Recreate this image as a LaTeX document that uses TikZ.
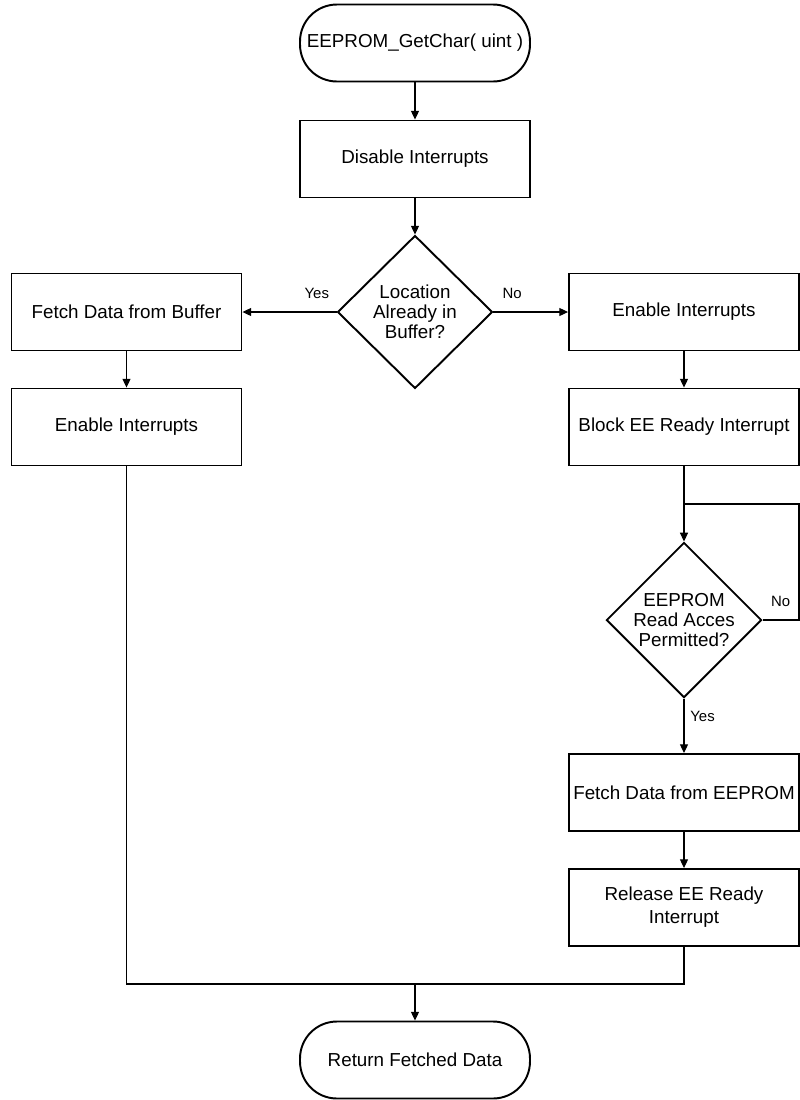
\documentclass[tikz,border=0pt]{standalone}
\usepackage{fontspec}
\setmainfont{Liberation Sans}
\usetikzlibrary{shapes.geometric,arrows.meta}

\tikzset{
  >={Triangle[length=5pt,width=4.6pt]},
  box/.style={draw,line width=1.1pt,minimum width=4.6cm,minimum height=1.54cm,
    align=center,inner sep=0pt,font=\fontsize{10.7}{13}\selectfont},
  term/.style={box,rounded corners=21pt},
  decide/.style={draw,diamond,line width=1.1pt,minimum width=3.1cm,minimum height=3.06cm,
    align=center,inner sep=0pt,font=\fontsize{10.7}{11.5}\selectfont},
  lbl/.style={font=\fontsize{8.5}{10}\selectfont},
}

\begin{document}
\begin{tikzpicture}[x=0.02cm,y=-0.02cm]
        \useasboundingbox (0,0) rectangle (800,1100);

        \begin{scope}[every node/.style={box}]
          \node[term] (start)    at (415,43)    {EEPROM\_GetChar( uint )};
          \node       (disable)  at (415,159)   {Disable Interrupts};
          \node       (fetchbuf) at (126.5,312) {Fetch Data from Buffer};
          \node       (enleft)   at (126.5,427) {Enable Interrupts};
          \node       (enright)  at (684,312)   {Enable Interrupts};
          \node       (block)    at (684,427)   {Block EE Ready Interrupt};
          \node       (fetchee)  at (684,792.5) {Fetch Data from EEPROM};
          \node       (release)  at (684,907.5) {Release EE Ready\\Interrupt};
          \node[term] (ret)      at (415,1060)  {Return Fetched Data};
        \end{scope}

        \node[decide] (loc)  at (415,312) {Location\\Already in\\Buffer?};
        \node[decide] (perm) at (684,620) {EEPROM\\Read Acces\\Permitted?};

        \coordinate (looptop)   at (684,504);
        \coordinate (loopright) at (799,504);
        \coordinate (nocorner)  at (799,620);
        \coordinate (join)      at (415,984);

        \begin{scope}[every edge/.style={draw,->,line width=0.6pt}]
          \path (start)    edge (disable);
          \path (disable)  edge (loc);
          \path (loc)      edge node[lbl,above=4pt,pos=0.21] (yes1) {Yes} (fetchbuf);
          \path (loc)      edge node[lbl,above=4pt,pos=0.25] (no1) {No} (enright);
          \path (fetchbuf) edge (enleft);
          \path (enright)  edge (block);
          \path (block)    edge (perm);
          \path (perm)     edge node[lbl,right,pos=0.32] (yes2) {Yes} (fetchee);
          \path (fetchee)  edge (release);
          \path (join)     edge (ret);
        \end{scope}

        \begin{scope}[line width=0.6pt]
          \draw (perm) -- node[lbl,above=4pt] (no2) {No} (nocorner) -- (loopright) -- (looptop);
          \draw (enleft) |- (join) -| (release);
        \end{scope}

      \end{tikzpicture}
\end{document}
